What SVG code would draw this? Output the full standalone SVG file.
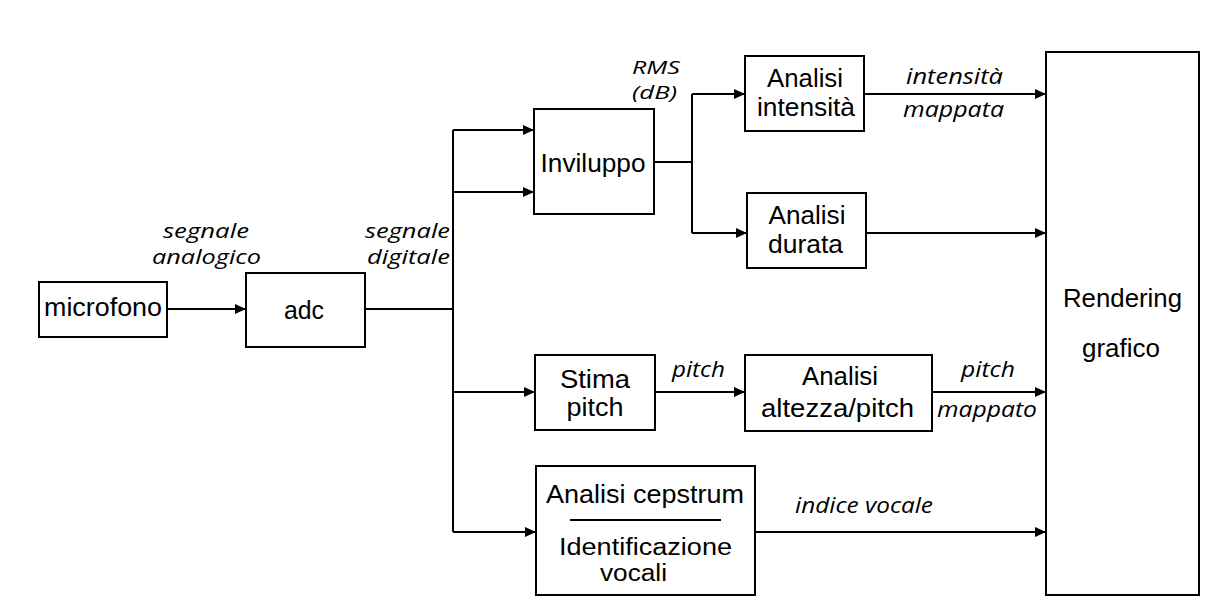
<svg xmlns="http://www.w3.org/2000/svg" width="1219" height="614" viewBox="0 0 1219 614">
<defs>
<marker id="arr" markerUnits="userSpaceOnUse" markerWidth="11" markerHeight="10" refX="11" refY="5" orient="auto">
<path d="M0,0 L11,5 L0,10 z" fill="#000"/>
</marker>
<style>
.box{fill:#fff;stroke:#000;stroke-width:2}
.n{font-family:"Liberation Sans",Arial,sans-serif;font-size:25px;fill:#000;text-anchor:middle}
.m{font-size:23px}
.l{font-family:"Open Sans","Noto Sans",sans-serif;font-style:italic;font-size:22px;fill:#000;text-anchor:middle}
.s{font-size:20px}
.t{font-size:19px}
.c{fill:none;stroke:#000;stroke-width:2}
.a{marker-end:url(#arr)}
</style>
</defs>
<rect width="1219" height="614" fill="#fff"/>
<g id="connectors">
<path class="c a" d="M167,309 H246"/>
<path class="c" d="M365,309 H453"/>
<path class="c" d="M453,130 V532"/>
<path class="c a" d="M453,130 H534"/>
<path class="c a" d="M453,192 H534"/>
<path class="c a" d="M453,392 H535"/>
<path class="c a" d="M453,532 H536"/>
<path class="c" d="M654,162 H692 M692,94 V233"/>
<path class="c a" d="M692,94 H745"/>
<path class="c a" d="M692,233 H747"/>
<path class="c a" d="M864,94 H1046"/>
<path class="c a" d="M866,233 H1046"/>
<path class="c a" d="M655,392 H745"/>
<path class="c a" d="M932,392 H1046"/>
<path class="c a" d="M755,532 H1046"/>
</g>
<g id="labels">
<text class="l s" x="206" y="238" textLength="86" lengthAdjust="spacingAndGlyphs">segnale</text>
<text class="l s" x="206.5" y="264" textLength="109" lengthAdjust="spacingAndGlyphs">analogico</text>
<text class="l s" x="407.5" y="238" textLength="85" lengthAdjust="spacingAndGlyphs">segnale</text>
<text class="l s" x="408.5" y="264" textLength="83" lengthAdjust="spacingAndGlyphs">digitale</text>
<text class="l t" x="656" y="74" textLength="48" lengthAdjust="spacingAndGlyphs">RMS</text>
<text class="l t" x="654.5" y="99" textLength="45" lengthAdjust="spacingAndGlyphs">(dB)</text>
<text class="l" x="954.5" y="84" textLength="97" lengthAdjust="spacingAndGlyphs">intensità</text>
<text class="l" x="953.5" y="117" textLength="101" lengthAdjust="spacingAndGlyphs">mappata</text>
<text class="l" x="698.5" y="377" textLength="53" lengthAdjust="spacingAndGlyphs">pitch</text>
<text class="l" x="988" y="377" textLength="54" lengthAdjust="spacingAndGlyphs">pitch</text>
<text class="l" x="987" y="417" textLength="100" lengthAdjust="spacingAndGlyphs">mappato</text>
<text class="l" x="864" y="513" textLength="138" lengthAdjust="spacingAndGlyphs">indice vocale</text>
</g>
<g id="microfono">
<rect class="box" x="39" y="282" width="128" height="55"/>
<text class="n" x="103" y="316" textLength="118" lengthAdjust="spacingAndGlyphs">microfono</text>
</g>
<g id="adc">
<rect class="box" x="246" y="273" width="119" height="74"/>
<text class="n" x="304" y="319" textLength="40" lengthAdjust="spacingAndGlyphs">adc</text>
</g>
<g id="inviluppo">
<rect class="box" x="534" y="109" width="120" height="105"/>
<text class="n" x="593" y="172" textLength="105" lengthAdjust="spacingAndGlyphs">Inviluppo</text>
</g>
<g id="analisi-intensita">
<rect class="box" x="745" y="56" width="119" height="75"/>
<text class="n" x="805" y="87" textLength="76" lengthAdjust="spacingAndGlyphs">Analisi</text>
<text class="n" x="806" y="116" textLength="98" lengthAdjust="spacingAndGlyphs">intensità</text>
</g>
<g id="analisi-durata">
<rect class="box" x="747" y="193" width="119" height="75"/>
<text class="n" x="807" y="224" textLength="77" lengthAdjust="spacingAndGlyphs">Analisi</text>
<text class="n" x="805.5" y="253" textLength="75" lengthAdjust="spacingAndGlyphs">durata</text>
</g>
<g id="stima-pitch">
<rect class="box" x="535" y="355" width="120" height="75"/>
<text class="n" x="595" y="388" textLength="70" lengthAdjust="spacingAndGlyphs">Stima</text>
<text class="n" x="595" y="416" textLength="57" lengthAdjust="spacingAndGlyphs">pitch</text>
</g>
<g id="analisi-altezza">
<rect class="box" x="745" y="355" width="187" height="76"/>
<text class="n" x="840" y="385" textLength="76" lengthAdjust="spacingAndGlyphs">Analisi</text>
<text class="n" x="837.5" y="417" textLength="153" lengthAdjust="spacingAndGlyphs">altezza/pitch</text>
</g>
<g id="cepstrum">
<rect class="box" x="536" y="466" width="219" height="129"/>
<text class="n" x="645" y="503" textLength="198" lengthAdjust="spacingAndGlyphs">Analisi cepstrum</text>
<line x1="570" y1="520" x2="721" y2="520" stroke="#000" stroke-width="2"/>
<text class="n m" x="645.5" y="555" textLength="173" lengthAdjust="spacingAndGlyphs">Identificazione</text>
<text class="n m" x="633.5" y="581" textLength="67" lengthAdjust="spacingAndGlyphs">vocali</text>
</g>
<g id="rendering">
<rect class="box" x="1046" y="52" width="153" height="543"/>
<text class="n" x="1122.5" y="307" textLength="119" lengthAdjust="spacingAndGlyphs">Rendering</text>
<text class="n" x="1121" y="357" textLength="78" lengthAdjust="spacingAndGlyphs">grafico</text>
</g>
</svg>
